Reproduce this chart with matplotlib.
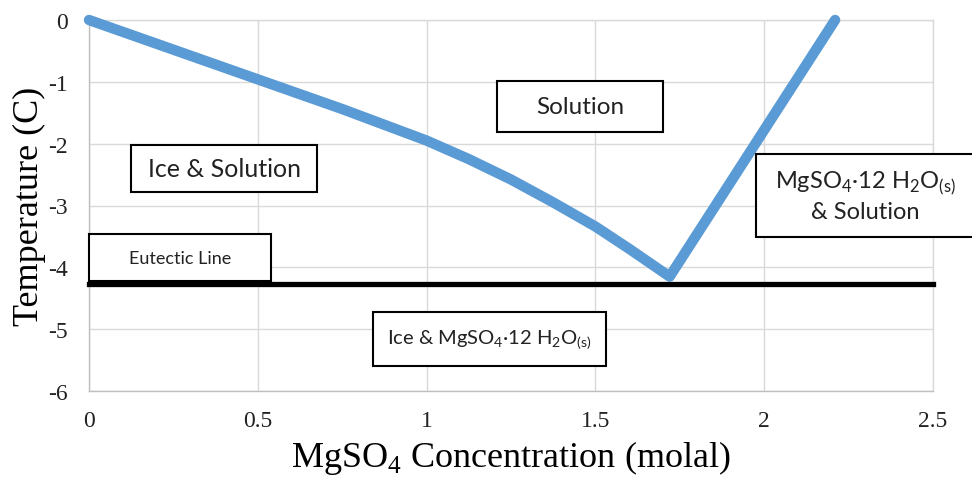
import matplotlib
matplotlib.use("Agg")
import matplotlib.pyplot as plt
from matplotlib.patches import Rectangle

# ---- data ----
liq_x = [0.0, 0.25, 0.5, 0.75, 1.0, 1.125, 1.25, 1.375, 1.5, 1.6, 1.72, 2.21]
liq_y = [0.0, -0.48, -0.96, -1.44, -1.95, -2.25, -2.58, -2.95, -3.34, -3.70, -4.15, 0.0]
eut_x = [0.0, 2.5]
eut_y = [-4.27, -4.27]
x_ticks = [0, 0.5, 1, 1.5, 2, 2.5]
x_tick_labels = ["0", "0.5", "1", "1.5", "2", "2.5"]
y_ticks = [0, -1, -2, -3, -4, -5, -6]
y_tick_labels = ["0", "-1", "-2", "-3", "-4", "-5", "-6"]
labels = [
    "Solution",
    "Ice & Solution",
    "Eutectic Line",
    "MgSO$_\\mathregular{4}$·12 H$_\\mathregular{2}$O$_\\mathregular{(s)}$\n& Solution",
    "Ice & MgSO$_\\mathregular{4}$·12 H$_\\mathregular{2}$O$_\\mathregular{(s)}$",
]

W, H = 972, 481
fig = plt.figure(figsize=(W / 100, H / 100), dpi=100)
ax = fig.add_axes([89 / W, 1 - 392 / H, (933 - 89) / W, (392 - 21) / H])

ax.set_xlim(0, 2.5)
ax.set_ylim(-6, 0)
ax.set_xticks(x_ticks)
ax.set_xticklabels(x_tick_labels)
ax.set_yticks(y_ticks)
ax.set_yticklabels(y_tick_labels)
ax.grid(True, color="#d9d9d9", linewidth=1.0)
ax.set_axisbelow(True)
for s in ["top", "right"]:
    ax.spines[s].set_color("#d9d9d9")
    ax.spines[s].set_linewidth(1.0)
for s in ["left", "bottom"]:
    ax.spines[s].set_color("#bfbfbf")
    ax.spines[s].set_linewidth(1.0)
ax.tick_params(length=0, labelsize=17, colors="#222222")
ax.tick_params(axis="x", pad=14)
ax.tick_params(axis="y", pad=15)
for lab in ax.get_xticklabels() + ax.get_yticklabels():
    lab.set_family("Liberation Serif")

ax.plot(eut_x, eut_y, color="black", linewidth=3.8, zorder=4, clip_on=False)
ax.plot(liq_x, liq_y, color="#5B9BD5", linewidth=7.5, solid_capstyle="round",
        solid_joinstyle="round", zorder=3, clip_on=False)

ax.set_xlabel("MgSO$_\\mathregular{4}$ Concentration (molal)", family="Liberation Serif",
              fontsize=26, labelpad=5)
ax.set_ylabel("Temperature (C)", family="Liberation Serif", fontsize=26, labelpad=2)

# text boxes (pixel layout: left, top, right, bottom, font size)
boxes = [
    (497, 82, 663, 133, 17.5),
    (131, 146, 317, 193, 18),
    (89, 235, 271, 282, 13),
    (756, 155, 975, 238, 17),
    (373, 313, 606, 367, 14.5),
]
for (l, t, r, b, fs), txt in zip(boxes, labels):
    rect = Rectangle((l / W, 1 - b / H), (r - l) / W, (b - t) / H, transform=fig.transFigure,
                     facecolor="white", edgecolor="black", linewidth=1.5, zorder=2)
    fig.add_artist(rect)
    fig.text((l + r) / 2 / W, 1 - (t + b) / 2 / H, txt, ha="center", va="center",
             fontsize=fs, family="Lato", color="#222222", zorder=3, linespacing=1.3)

fig.savefig("out.png", dpi=100)
